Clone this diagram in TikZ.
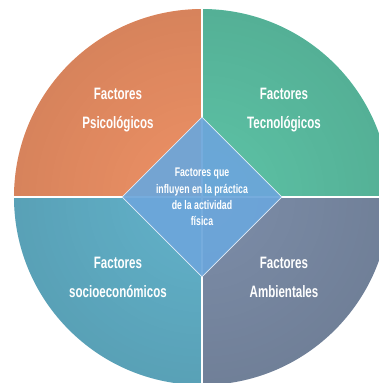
\documentclass[tikz,border=0pt]{standalone}
\usepackage{fontspec}
\setmainfont{Liberation Sans}[FakeStretch=0.7]
\usetikzlibrary{shapes.geometric,fadings}

\definecolor{psicoOrange}{HTML}{EF9266}
\definecolor{tecnoGreen}{HTML}{5EC4A7}
\definecolor{socioBlue}{HTML}{63B3CB}
\definecolor{ambiSlate}{HTML}{7D8EA9}
\definecolor{centerBlue}{HTML}{6CA6DB}

\tikzfading[name=rimfade, inner color=transparent!100, outer color=transparent!90]

\begin{document}
\begin{tikzpicture}[x=1pt,y=1pt]
        \tikzstyle{quad} = [draw=white,line width=1.2]
        \tikzstyle{label} = [text=white,align=center,font=\bfseries\fontsize{16.5}{29}\selectfont]
        \tikzstyle{core} = [diamond,aspect=1,minimum size=160,inner sep=0,draw=white!80!centerBlue,line width=.8,fill=centerBlue,fill opacity=.93,text opacity=1,text=white,align=center,font=\bfseries\fontsize{12.5}{16.3}\selectfont]
        \useasboundingbox (0,0) rectangle (379,383);
        \clip (0,0) rectangle (379,383);
        \coordinate (c) at (202,186);
        % four quarters of the circle
        \fill[psicoOrange] (c) -- +(-188,0) arc[start angle=180,end angle=90,radius=188] -- cycle;
        \fill[tecnoGreen] (c) -- +(0,188) arc[start angle=90,end angle=0,radius=188] -- cycle;
        \fill[socioBlue] (c) -- +(-188,0) arc[start angle=180,end angle=270,radius=188] -- cycle;
        \fill[ambiSlate] (c) -- +(188,0) arc[start angle=0,end angle=-90,radius=188] -- cycle;
        \fill[black,path fading=rimfade] (c) circle[radius=188];
        \draw[quad] (c) -- +(0,190);
        \draw[quad] (c) -- +(0,-190);
        \draw[quad] (c) -- +(-190,0);
        \draw[quad] (c) -- +(190,0);
        \node[label] (psico) at (118,272.5) {Factores\\Psicológicos};
        \node[label] (tecno) at (284,272.5) {Factores\\Tecnológicos};
        \node[label] (socio) at (118,105.5) {Factores\\socioeconómicos};
        \node[label] (ambi) at (284,105.5) {Factores\\Ambientales};
        \node[core] (factores) at (c) {Factores que\\influyen en la práctica\\de la actividad\\física};
    \end{tikzpicture}
\end{document}
